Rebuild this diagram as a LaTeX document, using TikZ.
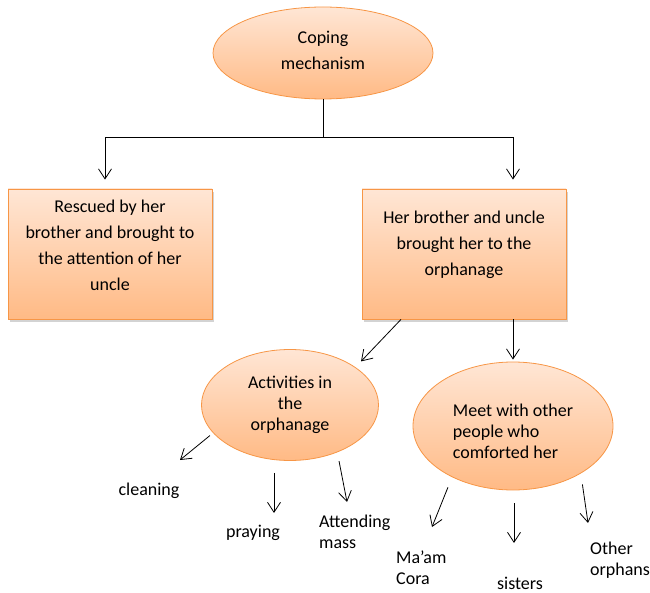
\documentclass[tikz,border=0pt]{standalone}
\usepackage{fontspec}
\setmainfont{Carlito}
\usetikzlibrary{arrows.meta,shapes.geometric,shadows}

\definecolor{peachtop}{HTML}{FFE6D5}
\definecolor{peachbot}{HTML}{FFBA85}
\definecolor{peachline}{HTML}{F79646}

% move a text block without changing the node size
\newcommand{\nudge}[3]{\raisebox{#2}[\height][\depth]{\rlap{\hspace*{#1}#3}\phantom{#3}}}
\newcommand{\txtstack}[2]{\begin{tabular}{@{}#1@{}}#2\end{tabular}}

\begin{document}
\begin{tikzpicture}[x=1pt,y=-1pt,
	every node/.style={font=\fontsize{18}{21}\selectfont},
	oval/.style={ellipse,draw=peachline,line width=0.8pt,top color=peachtop,bottom color=peachbot,inner sep=0pt},
	card/.style={rectangle,draw=peachline,line width=0.8pt,top color=peachtop,bottom color=peachbot,inner sep=0pt,
		minimum width=204pt,minimum height=130pt,font=\fontsize{18}{26}\selectfont,
		drop shadow={shadow xshift=2pt,shadow yshift=-3pt,opacity=0.35}},
	leaf/.style={inner sep=0pt,align=left},
	arr/.style={-{Straight Barb[length=10pt,width=13pt]},line width=0.8pt}]
	\useasboundingbox (0,0) rectangle (650,593);

	\node [oval,minimum width=220pt,minimum height=92pt,font=\fontsize{18}{26}\selectfont] (cope) at (323,53)
		{\nudge{0pt}{1.5pt}{\txtstack{c}{Coping\\mechanism}}};

	\node [card] (rescue) at (110,254)
		{\nudge{0pt}{7.5pt}{\txtstack{c}{Rescued by her\\brother and brought to\\the attention of her\\uncle}}};
	\node [card] (brought) at (464,254)
		{\nudge{0pt}{10pt}{\txtstack{c}{Her brother and uncle\\brought her to the\\orphanage}}};

	\node [oval,minimum width=177pt,minimum height=111pt] (act) at (290,405)
		{\txtstack{c}{Activities in\\the\\orphanage}};
	\node [oval,minimum width=200pt,minimum height=128pt] (meet) at (513,426)
		{\nudge{0pt}{-7pt}{\txtstack{l}{Meet with other\\people who\\comforted her}}};

	\node [leaf] (clean) at (149,491) {cleaning};
	\node [leaf] (pray) at (253,533) {praying};
	\node [leaf,anchor=west] (mass) at (319,532) {Attending\\mass};
	\node [leaf,anchor=west] (cora) at (396,568) {Ma’am\\Cora};
	\node [leaf] (sis) at (520,583) {sisters};
	\node [leaf,anchor=west] (orph) at (590,560) {Other\\orphans};

	\coordinate (split) at (323,137);
	\coordinate (cleantip) at (180,460);
	\coordinate (praytip) at (274,513);
	\coordinate (masstip) at (347,502);
	\coordinate (coratip) at (432,527);
	\coordinate (sistip) at (514,543);
	\coordinate (orphtip) at (588,523);

	\draw [line width=0.8pt] (cope.south) -- (split);
	\draw [arr] (split) -| ([xshift=-5pt,yshift=9pt]rescue.north);
	\draw [arr] (split) -| ([xshift=49pt,yshift=9pt]brought.north);

	\draw [arr,shorten >=8pt] ([xshift=-63pt]brought.south) -- (act.30);
	\draw [arr,shorten >=2pt] ([xshift=49pt]brought.south) -- (meet.north);

	\draw [arr,shorten <=4pt] (act.200) -- (cleantip);
	\draw [arr,shorten <=12pt] ([xshift=-16pt]act.south) -- (praytip);
	\draw [arr,shorten <=9pt] (act.-45) -- (masstip);

	\draw [arr,shorten <=11pt] (meet.-140) -- (coratip);
	\draw [arr,shorten <=13pt] ([xshift=1pt]meet.south) -- (sistip);
	\draw [arr,shorten <=11pt] (meet.-35) -- (orphtip);
\end{tikzpicture}
\end{document}
